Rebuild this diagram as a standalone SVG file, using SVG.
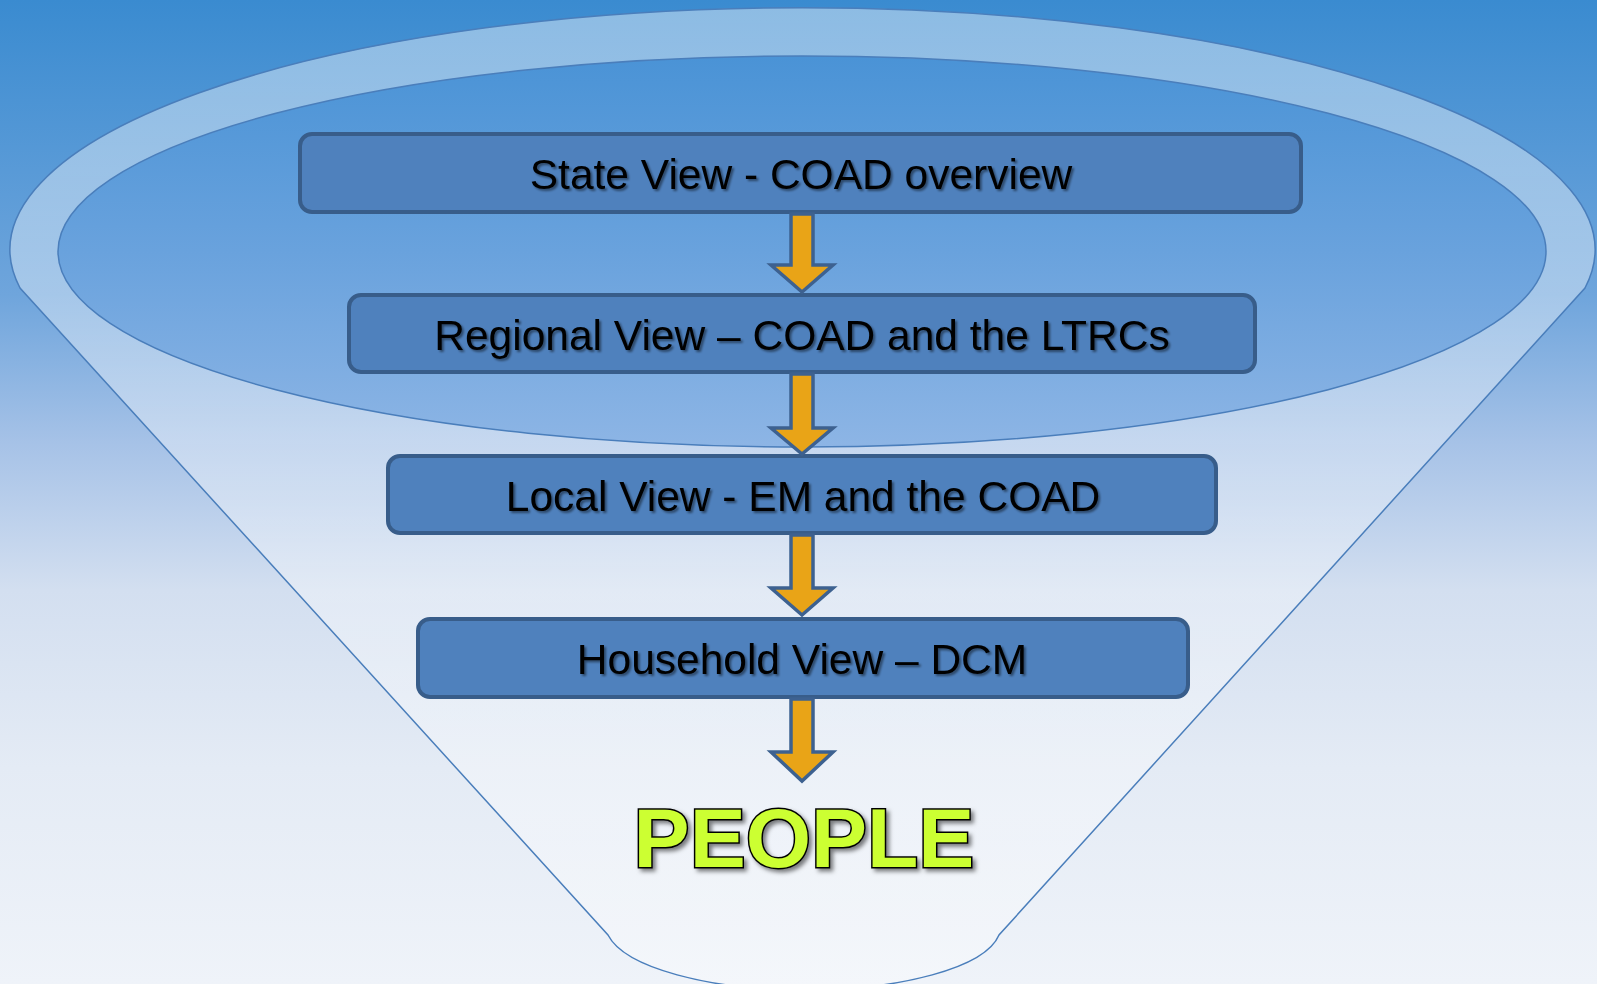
<svg xmlns="http://www.w3.org/2000/svg" width="1597" height="984" viewBox="0 0 1597 984">
  <defs>
    <linearGradient id="bg" x1="0" y1="0" x2="0" y2="984" gradientUnits="userSpaceOnUse">
      <stop offset="0" stop-color="#3a8bd0"/>
      <stop offset="0.3" stop-color="#6fa5dc"/>
      <stop offset="0.45" stop-color="#a6c2e7"/>
      <stop offset="0.6" stop-color="#d3dff0"/>
      <stop offset="0.78" stop-color="#e4ebf5"/>
      <stop offset="1" stop-color="#eff3f9"/>
    </linearGradient>
    <linearGradient id="funnelFill" x1="0" y1="0" x2="0" y2="984" gradientUnits="userSpaceOnUse">
      <stop offset="0" stop-color="#ffffff" stop-opacity="0.42"/>
      <stop offset="0.5" stop-color="#ffffff" stop-opacity="0.35"/>
      <stop offset="1" stop-color="#ffffff" stop-opacity="0.3"/>
    </linearGradient>
    <linearGradient id="innerFill" x1="0" y1="0" x2="0" y2="1">
      <stop offset="0" stop-color="#4a93d6"/>
      <stop offset="0.5" stop-color="#69a2dd"/>
      <stop offset="1" stop-color="#8db5e5"/>
    </linearGradient>
    <filter id="txtShadow" x="-10%" y="-30%" width="120%" height="160%">
      <feDropShadow dx="2" dy="2" stdDeviation="1.2" flood-color="#000000" flood-opacity="0.45"/>
    </filter>
    <filter id="peopleShadow" x="-10%" y="-20%" width="120%" height="140%">
      <feDropShadow dx="3" dy="3" stdDeviation="2" flood-color="#000000" flood-opacity="0.5"/>
    </filter>
  </defs>
  <style>
    .box { fill: #4f81bd; stroke: #385d8a; stroke-width: 4; }
    .lbl { font-family: "Liberation Sans", Arial, sans-serif; font-size: 42.5px; fill: #000000; text-anchor: middle; }
    .arrow { fill: #e9a417; stroke: #3d6190; stroke-width: 3.5; stroke-linejoin: miter; }
    .funnel { fill: url(#funnelFill); stroke: #4a7ebb; stroke-width: 1.5; }
    .inner { fill: url(#innerFill); stroke: #4a7ebb; stroke-width: 1.5; }
    .people { font-family: "Liberation Sans", Arial, sans-serif; font-size: 84px; font-weight: bold; fill: #ccff33; stroke: #000000; stroke-width: 3; text-anchor: middle; paint-order: stroke; }
  </style>

  <rect x="0" y="0" width="1597" height="984" fill="url(#bg)"/>

  <g id="funnel">
    <path class="funnel" d="M20,288 A792.5,242 0 1 1 1585,288 L999,935 C985,968 900,990 804,990 C710,990 625,968 608,935 Z"/>
    <ellipse class="inner" cx="802" cy="251.5" rx="744" ry="195.5"/>
  </g>

  <g id="node-state">
    <rect class="box" x="300" y="134" width="1001" height="78" rx="12"/>
    <text class="lbl" x="801" y="189" filter="url(#txtShadow)">State View - COAD overview</text>
  </g>
  <g id="node-regional">
    <rect class="box" x="349" y="295" width="906" height="77" rx="12"/>
    <text class="lbl" x="802" y="350" filter="url(#txtShadow)">Regional View – COAD and the LTRCs</text>
  </g>
  <g id="node-local">
    <rect class="box" x="388" y="456" width="828" height="77" rx="12"/>
    <text class="lbl" x="803" y="511" filter="url(#txtShadow)">Local View - EM and the COAD</text>
  </g>
  <g id="node-household">
    <rect class="box" x="418" y="619" width="770" height="78" rx="12"/>
    <text class="lbl" x="802" y="674" filter="url(#txtShadow)">Household View – DCM</text>
  </g>
  <g id="node-people">
    <text class="people" x="804" y="867" filter="url(#peopleShadow)">PEOPLE</text>
  </g>

  <g id="connectors">
    <polygon class="arrow" points="791,214 813,214 813,265 833,265 802,292 771,265 791,265"/>
    <polygon class="arrow" points="791,374 813,374 813,428 833,428 802,454 771,428 791,428"/>
    <polygon class="arrow" points="791,535 813,535 813,588 833,588 802,615 771,588 791,588"/>
    <polygon class="arrow" points="791,699 813,699 813,752 833,752 802,781 771,752 791,752"/>
  </g>
</svg>
